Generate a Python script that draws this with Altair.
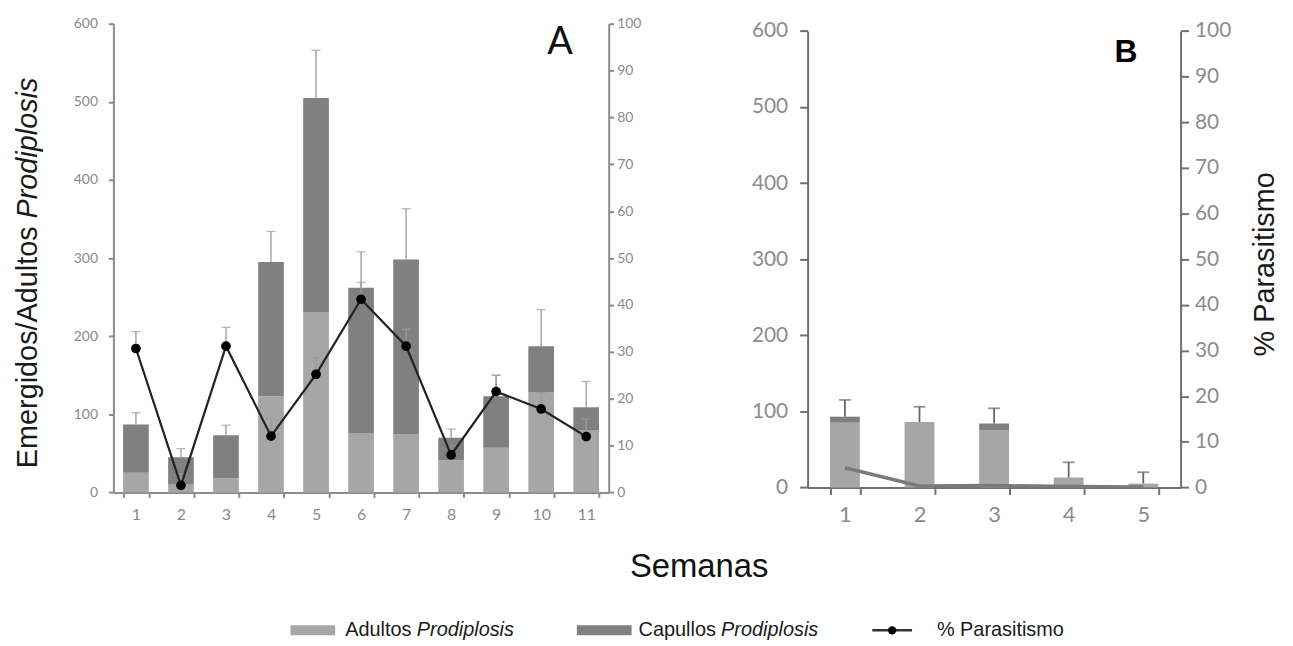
import altair as alt
import pandas as pd

# ---------------- Data ----------------
semanas_a = [str(i) for i in range(1, 12)]
adultos_a = [25, 10, 18, 123, 231, 76, 74, 41, 57, 128, 79]
total_a = [87, 45, 73, 295, 505, 262, 298, 70, 123, 187, 109]
err_total_a = [102, 56, 86, 334, 566, 308, 363, 81, 150, 234, 142]
paras_a = [30.7, 1.5, 31.2, 12.0, 25.2, 41.2, 31.2, 8.0, 21.5, 17.8, 11.9]
err_paras_a = [34.3, 4.0, 35.2, 15.7, 28.8, 44.8, 34.8, 10.0, 25.0, 21.3, 15.7]

semanas_b = [str(i) for i in range(1, 6)]
adultos_b = [85, 86, 75, 13, 5]
total_b = [93, 86, 84, 13, 5]
err_total_b = [115, 106, 104, 33, 20]
paras_b = [4.3, 0.3, 0.4, 0.2, 0.1]

left_ticks = [0, 100, 200, 300, 400, 500, 600]
right_ticks = [0, 10, 20, 30, 40, 50, 60, 70, 80, 90, 100]

TITLE_FONT = "Liberation Sans"
TICK_FONT = "Lato"


def one():
    return pd.DataFrame({"k": [0]})


def txt(text, x, y, size, **kw):
    return alt.Chart(one()).mark_text(text=text, fontSize=size, **kw).encode(
        x=alt.value(x), y=alt.value(y)
    )


def panel(semanas, adultos, total, err_total, paras, err_paras, cfg):
    capullos = [t - a for t, a in zip(total, adultos)]
    rows = []
    for s, a, c in zip(semanas, adultos, capullos):
        rows.append({"semana": s, "tipo": "Adultos", "valor": a, "orden": 0})
        rows.append({"semana": s, "tipo": "Capullos", "valor": c, "orden": 1})
    bars_df = pd.DataFrame(rows)
    err_df = pd.DataFrame({"semana": semanas, "total": total, "err": err_total})
    line_df = pd.DataFrame({"semana": semanas, "paras": paras})

    xscale = alt.Scale(paddingInner=cfg["pi"], paddingOuter=cfg["pi"] / 2)
    xaxis = alt.Axis(
        title=None, labelAngle=0, tickBand="extent", labelFont=TICK_FONT,
        labelFontSize=cfg["xlab"], labelColor=cfg["labcol"], domainColor=cfg["axcol"],
        domainWidth=cfg["axw"], tickColor=cfg["axcol"], tickWidth=cfg["axw"],
        tickSize=cfg["xtick"], labelPadding=cfg["xpad"], offset=cfg["xoff"],
    )
    X = alt.X("semana:O", sort=semanas, scale=xscale, axis=xaxis)

    ysc = alt.Scale(domain=[0, 600], nice=False, **cfg["range"])
    yaxis = alt.Axis(
        title=None, values=left_ticks, labelFont=TICK_FONT, labelFontSize=cfg["ylab"],
        labelColor=cfg["labcol"], domainColor=cfg["axcol"], domainWidth=cfg["axw"],
        tickColor=cfg["axcol"], tickWidth=cfg["axw"], tickSize=cfg["ytick"],
        labelPadding=cfg["lpad"], grid=False,
    )
    psc = alt.Scale(domain=[0, 100], nice=False, **cfg["range"])
    paxis = alt.Axis(
        title=None, orient="right", values=right_ticks, labelFont=TICK_FONT,
        labelFontSize=cfg["ylab"], labelColor=cfg["labcol"], domainColor=cfg["axcol"],
        domainWidth=cfg["axw"], tickColor=cfg["axcol"], tickWidth=cfg["axw"],
        tickSize=cfg["ytick"], labelPadding=cfg["rpad"], grid=False,
    )

    bars = alt.Chart(bars_df).mark_bar().encode(
        x=X,
        y=alt.Y("valor:Q", stack="zero", scale=ysc, axis=yaxis),
        color=alt.Color(
            "tipo:N",
            scale=alt.Scale(domain=["Adultos", "Capullos"], range=[cfg["light"], cfg["dark"]]),
            legend=None,
        ),
        order=alt.Order("orden:Q"),
    )
    err_rule = alt.Chart(err_df).mark_rule(color=cfg["errcol"], strokeWidth=cfg["errw"]).encode(
        x=X, y=alt.Y("total:Q", scale=ysc, axis=yaxis), y2="err:Q"
    )
    err_cap = alt.Chart(err_df).mark_tick(
        color=cfg["errcol"], thickness=cfg["errw"], size=cfg["capw"]
    ).encode(x=X, y=alt.Y("err:Q", scale=ysc, axis=yaxis))
    left_group = alt.layer(bars, err_rule, err_cap)

    line_layers = []
    if err_paras is not None:
        pe_df = pd.DataFrame({"semana": semanas, "paras": paras, "err": err_paras})
        line_layers.append(
            alt.Chart(pe_df).mark_rule(color=cfg["errcol"], strokeWidth=cfg["errw"]).encode(
                x=X, y=alt.Y("paras:Q", scale=psc, axis=paxis), y2="err:Q"
            )
        )
        line_layers.append(
            alt.Chart(pe_df).mark_tick(
                color=cfg["errcol"], thickness=cfg["errw"], size=cfg["capw"]
            ).encode(x=X, y=alt.Y("err:Q", scale=psc, axis=paxis))
        )
    line_layers.append(
        alt.Chart(line_df).mark_line(color=cfg["linecol"], strokeWidth=cfg["linew"]).encode(
            x=X, y=alt.Y("paras:Q", scale=psc, axis=paxis)
        )
    )
    if cfg["points"]:
        line_layers.append(
            alt.Chart(line_df).mark_circle(color="#000000", opacity=1, size=95).encode(
                x=X, y=alt.Y("paras:Q", scale=psc, axis=paxis)
            )
        )
    right_group = alt.layer(*line_layers)

    return alt.layer(left_group, right_group, *cfg["annot"]).resolve_scale(y="independent")


# ---------------- Annotations panel A (relative to plot origin) ----------------
annot_a = [
    txt("Emergidos/Adultos ", -86, 447, 29, angle=270, align="left", baseline="middle",
        font=TITLE_FONT, color="#1a1a1a"),
    txt("Prodiplosis", -86, 196, 29, angle=270, align="left", baseline="middle",
        font=TITLE_FONT, fontStyle="italic", color="#1a1a1a"),
    txt("A", 449, 30, 38, align="center", baseline="alphabetic", font=TICK_FONT,
        color="#111111"),
    txt("Semanas", 589, 556, 33, align="center", baseline="alphabetic",
        font=TITLE_FONT, color="#111111"),
    # legend
    alt.Chart(one()).mark_rect(color="#a6a6a6").encode(
        x=alt.value(178), x2=alt.value(223), y=alt.value(605), y2=alt.value(615)),
    txt("Adultos ", 233, 610, 20, align="left", baseline="middle", font=TITLE_FONT,
        color="#1a1a1a"),
    txt("Prodiplosis", 305, 610, 20, align="left", baseline="middle", font=TITLE_FONT,
        fontStyle="italic", color="#1a1a1a"),
    alt.Chart(one()).mark_rect(color="#808080").encode(
        x=alt.value(466), x2=alt.value(521), y=alt.value(605), y2=alt.value(615)),
    txt("Capullos ", 528, 610, 20, align="left", baseline="middle", font=TITLE_FONT,
        color="#1a1a1a"),
    txt("Prodiplosis", 611, 610, 20, align="left", baseline="middle", font=TITLE_FONT,
        fontStyle="italic", color="#1a1a1a"),
    alt.Chart(one()).mark_rule(color="#333333", strokeWidth=2.5).encode(
        x=alt.value(763), x2=alt.value(803), y=alt.value(610)),
    alt.Chart(one()).mark_circle(color="#000000", opacity=1, size=70).encode(
        x=alt.value(783), y=alt.value(610)),
    txt("% Parasitismo", 828, 610, 20, align="left", baseline="middle", font=TITLE_FONT,
        color="#1a1a1a"),
]

annot_b = [
    txt("B", 320, 39, 32, align="center", baseline="alphabetic", font=TITLE_FONT,
        fontWeight="bold", color="#000000"),
    txt("% Parasitismo", 460, 242, 29, angle=270, align="center", baseline="middle",
        font=TITLE_FONT, color="#1a1a1a"),
]

cfg_a = dict(
    pi=0.43, xlab=16, ylab=14, labcol="#8a8a8a", axcol="#8c8c8c", axw=2,
    xtick=5, xpad=9, xoff=0, ytick=5, lpad=11, rpad=3,
    range={}, light="#a6a6a6", dark="#808080", errcol="#9a9a9a", errw=1.3, capw=9,
    linecol="#222222", linew=2.2, points=True, annot=annot_a,
)
cfg_b = dict(
    pi=0.6, xlab=22, ylab=21, labcol="#8c8c8c", axcol="#707070", axw=2,
    xtick=7, xpad=10, xoff=-5, ytick=8, lpad=12, rpad=6,
    range={"range": [466.3, 7.3]}, light="#b3b3b3", dark="#6b6b6b", errcol="#666666",
    errw=1.8, capw=12, linecol="#7a7a7a", linew=3.5, points=False, annot=annot_b,
)

panel_a = panel(semanas_a, adultos_a, total_a, err_total_a, paras_a, err_paras_a, cfg_a
                ).properties(width=498, height=471.3)
panel_b = panel(semanas_b, adultos_b, total_b, err_total_b, paras_b, None, cfg_b
                ).properties(width=375, height=471.3)

chart = alt.hconcat(panel_a, panel_b, spacing=200, bounds="flush").properties(
    padding={"left": 5, "top": 7, "right": 5, "bottom": 5}
).configure_view(stroke=None)

chart.save("out.html", embed_options={"renderer": "svg", "actions": False})
